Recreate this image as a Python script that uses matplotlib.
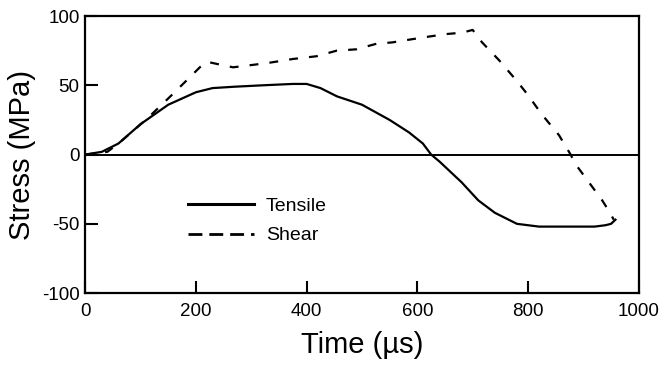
import matplotlib
matplotlib.use("Agg")
import matplotlib.pyplot as plt
from matplotlib.lines import Line2D

plt.rcParams['font.family'] = ['Liberation Sans', 'DejaVu Sans']
plt.rcParams['axes.unicode_minus'] = False

tensile_t = [0, 15, 30, 60, 100, 150, 200, 230, 270, 320, 375, 400, 425, 455, 500,
             550, 585, 610, 625, 640, 680, 710, 740, 780, 820, 870, 920, 940, 950, 958]
tensile_s = [0, 1, 2, 8, 22, 36, 45, 48, 49, 50, 51, 51, 48, 42, 36,
             25, 16, 8, 0, -5, -20, -33, -42, -50, -52, -52, -52, -51, -50, -47]

shear_t = [0, 20, 40, 63, 112, 159, 207, 220, 243, 267, 328, 375, 418, 454, 490, 526,
           555, 586, 618, 652, 681, 700, 717, 748, 778, 798, 825, 856, 877, 886, 910,
           934, 945, 955]
shear_s = [0, 1, 2, 9, 26, 44, 63, 67, 65, 63, 66, 69, 71, 75, 76, 80,
           81, 83, 85, 87, 88, 90, 81, 68, 54, 44, 29, 14, 0, -7, -20,
           -33, -40, -47]

x_ticks = [0, 200, 400, 600, 800, 1000]
y_ticks = [-100, -50, 0, 50, 100]

fig = plt.figure(figsize=(6.66, 3.65), dpi=100)
ax = fig.add_axes([0.128, 0.197, 0.831, 0.759])

ax.plot(tensile_t, tensile_s, color='black', lw=1.6)
ax.plot(shear_t, shear_s, color='black', lw=1.6, ls=(0, (4, 5)))
ax.axhline(0, color='black', lw=1.4)

ax.set_xlim(0, 1000)
ax.set_ylim(-100, 100)
ax.set_xticks(x_ticks)
ax.set_yticks(y_ticks)
ax.tick_params(direction='in', length=9, width=1.5, labelsize=13.5)
ax.tick_params(axis='x', pad=7)
ax.tick_params(axis='y', pad=4)
for sp in ax.spines.values():
    sp.set_linewidth(1.6)

ax.set_xlabel('Time (\u00b5s)', fontsize=21, labelpad=8)
ax.set_ylabel('Stress (MPa)', fontsize=21, labelpad=4)

handles = [Line2D([], [], color='black', lw=2.2),
           Line2D([], [], color='black', lw=2.0, ls=(0, (5, 2.5)))]
ax.legend(handles, ['Tensile', 'Shear'], loc='upper left',
          bbox_to_anchor=(0.186, 0.345), frameon=False, fontsize=14,
          handlelength=3.4, handletextpad=0.6, labelspacing=0.6,
          borderpad=0, borderaxespad=0)

fig.savefig('out.png', dpi=100)
